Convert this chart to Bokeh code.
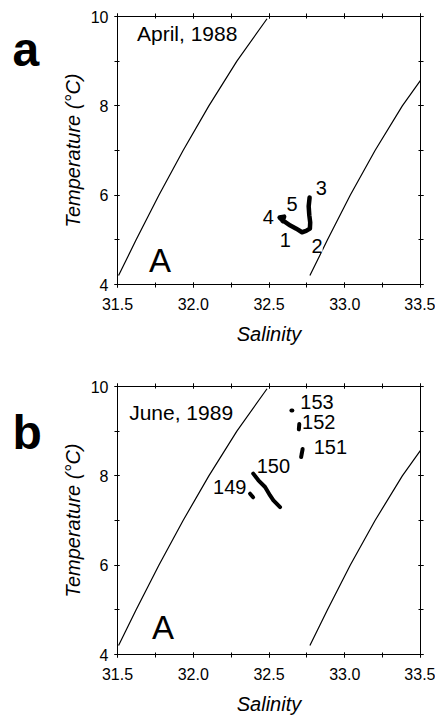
from bokeh.plotting import figure
from bokeh.models import (LinearAxis, SingleIntervalTicker, ColumnDataSource,
                          LabelSet, Range1d, NumeralTickFormatter, CustomJSTickFormatter)
from bokeh.layouts import column, row
from bokeh.embed import file_html
from bokeh.resources import INLINE
from bokeh.core.properties import value

FONT = "Liberation Sans"

# Reference curves (same in both panels)
left_sal = [31.507, 31.623, 31.773, 31.933, 32.103, 32.288, 32.487]
left_tmp = [4.20, 5.00, 6.00, 7.00, 8.00, 9.00, 9.95]
right_sal = [32.770, 32.886, 33.036, 33.200, 33.380, 33.500]
right_tmp = [4.20, 5.00, 6.00, 7.00, 8.00, 8.57]

# Panel a: April 1988 T-S trace
a_sal = [32.768, 32.762, 32.766, 32.772, 32.770, 32.745, 32.718, 32.680,
         32.641, 32.605, 32.586, 32.570, 32.600, 32.590]
a_tmp = [5.95, 5.75, 5.55, 5.39, 5.25, 5.20, 5.17, 5.25,
         5.32, 5.40, 5.45, 5.50, 5.52, 5.42]
a_station = ["1", "2", "3", "4", "5"]
a_station_sal = [32.608, 32.817, 32.845, 32.495, 32.652]
a_station_tmp = [4.99, 4.87, 6.15, 5.51, 5.81]

# Panel b: June 1989 T-S traces per station
b_trace_sal = [[32.375, 32.395],
               [32.396, 32.430, 32.474, 32.507, 32.529, 32.573],
               [32.712, 32.722, 32.715],
               [32.697, 32.700],
               [32.648, 32.654]]
b_trace_tmp = [[7.60, 7.52],
               [8.05, 7.90, 7.75, 7.56, 7.45, 7.30],
               [8.42, 8.60, 8.48],
               [9.04, 9.16],
               [9.46, 9.46]]
b_station = ["149", "150", "151", "152", "153"]
b_station_sal = [32.241, 32.529, 32.905, 32.828, 32.817]
b_station_tmp = [7.75, 8.23, 8.64, 9.20, 9.65]


def style_axis(ax, labels=True):
    ax.axis_line_color = "black"
    ax.axis_line_width = 1
    ax.major_tick_in = 2
    ax.major_tick_out = 3
    ax.minor_tick_in = 2
    ax.minor_tick_out = 3
    ax.major_tick_line_color = "black"
    ax.minor_tick_line_color = "black"
    ax.major_label_text_font = FONT
    ax.major_label_text_color = "black"
    ax.major_label_text_font_size = "16px"
    ax.axis_label_text_font = FONT
    ax.axis_label_text_font_style = "italic"
    ax.axis_label_text_font_size = "20px"
    ax.axis_label_text_color = "black"
    if not labels:
        ax.formatter = CustomJSTickFormatter(code="return ''")
        ax.major_label_standoff = 0


def letter_panel(height, letter, baseline_from_top):
    f = figure(width=50, height=height, output_backend="svg", toolbar_location=None,
               x_range=Range1d(0, 50), y_range=Range1d(0, height),
               x_axis_location=None, y_axis_location=None, min_border=0)
    f.xgrid.visible = False
    f.ygrid.visible = False
    f.outline_line_color = None
    f.text(x=[12], y=[height - baseline_from_top], text=[letter],
           text_font=value(FONT), text_font_size="48px", text_font_style="bold",
           text_color="black", text_align="left", text_baseline="alphabetic")
    return f


def make_panel(height, top, bottom, title, title_pos, a_pos):
    p = figure(width=385, height=height, output_backend="svg", toolbar_location=None,
               x_range=Range1d(31.5, 33.5), y_range=Range1d(4, 10),
               min_border_left=67, min_border_right=15,
               min_border_top=top, min_border_bottom=bottom,
               x_axis_label="Salinity", y_axis_label="Temperature (°C)")
    p.xgrid.visible = False
    p.ygrid.visible = False
    p.outline_line_color = "black"

    p.xaxis.ticker = SingleIntervalTicker(interval=0.5, num_minor_ticks=2)
    p.yaxis.ticker = SingleIntervalTicker(interval=2, num_minor_ticks=2)
    p.xaxis.formatter = NumeralTickFormatter(format="0.0")
    style_axis(p.xaxis[0])
    style_axis(p.yaxis[0])
    p.xaxis.major_label_standoff = 10
    p.xaxis.axis_label_standoff = 10
    p.yaxis.major_label_standoff = 6
    p.yaxis.axis_label_standoff = 4

    top_ax = LinearAxis(ticker=SingleIntervalTicker(interval=0.5, num_minor_ticks=2))
    style_axis(top_ax, labels=False)
    p.add_layout(top_ax, "above")
    right_ax = LinearAxis(ticker=SingleIntervalTicker(interval=2, num_minor_ticks=2))
    style_axis(right_ax, labels=False)
    p.add_layout(right_ax, "right")

    p.line(left_sal, left_tmp, line_color="black", line_width=1.2, line_join="round")
    p.line(right_sal, right_tmp, line_color="black", line_width=1.2, line_join="round")

    p.text(x=[title_pos[0]], y=[title_pos[1]], text=[title],
           text_font=value(FONT), text_font_size="21px", text_color="black",
           text_align="center", text_baseline="middle")
    p.text(x=[a_pos[0]], y=[a_pos[1]], text=["A"],
           text_font=value(FONT), text_font_size="33px", text_color="black",
           text_align="center", text_baseline="middle")
    return p


pa = make_panel(363, 16, 79, "April, 1988", (31.96, 9.61), (31.78, 4.54))
pa.line(a_sal, a_tmp, line_color="black", line_width=4.5,
        line_join="round", line_cap="round", level="overlay")
src_a = ColumnDataSource(dict(x=a_station_sal, y=a_station_tmp, t=a_station))
pa.add_layout(LabelSet(x="x", y="y", text="t", source=src_a,
                       text_font=value(FONT), text_font_size="20px", text_color="black",
                       text_align="center", text_baseline="middle",
                       background_fill_color="white", background_fill_alpha=1.0))

pb = make_panel(364, 23, 73, "June, 1989", (31.92, 9.42), (31.80, 4.61))
pb.multi_line(b_trace_sal, b_trace_tmp, line_color="black", line_width=4,
              line_join="round", line_cap="round")
pb.text(x=b_station_sal, y=b_station_tmp, text=b_station,
        text_font=value(FONT), text_font_size="20px", text_color="black",
        text_align="center", text_baseline="middle")

la = letter_panel(363, "a", 45)
lb = letter_panel(364, "b", 62)

layout = column(row(la, pa, spacing=0), row(lb, pb, spacing=0), spacing=0)
open("out.html", "w").write(file_html(layout, INLINE))
